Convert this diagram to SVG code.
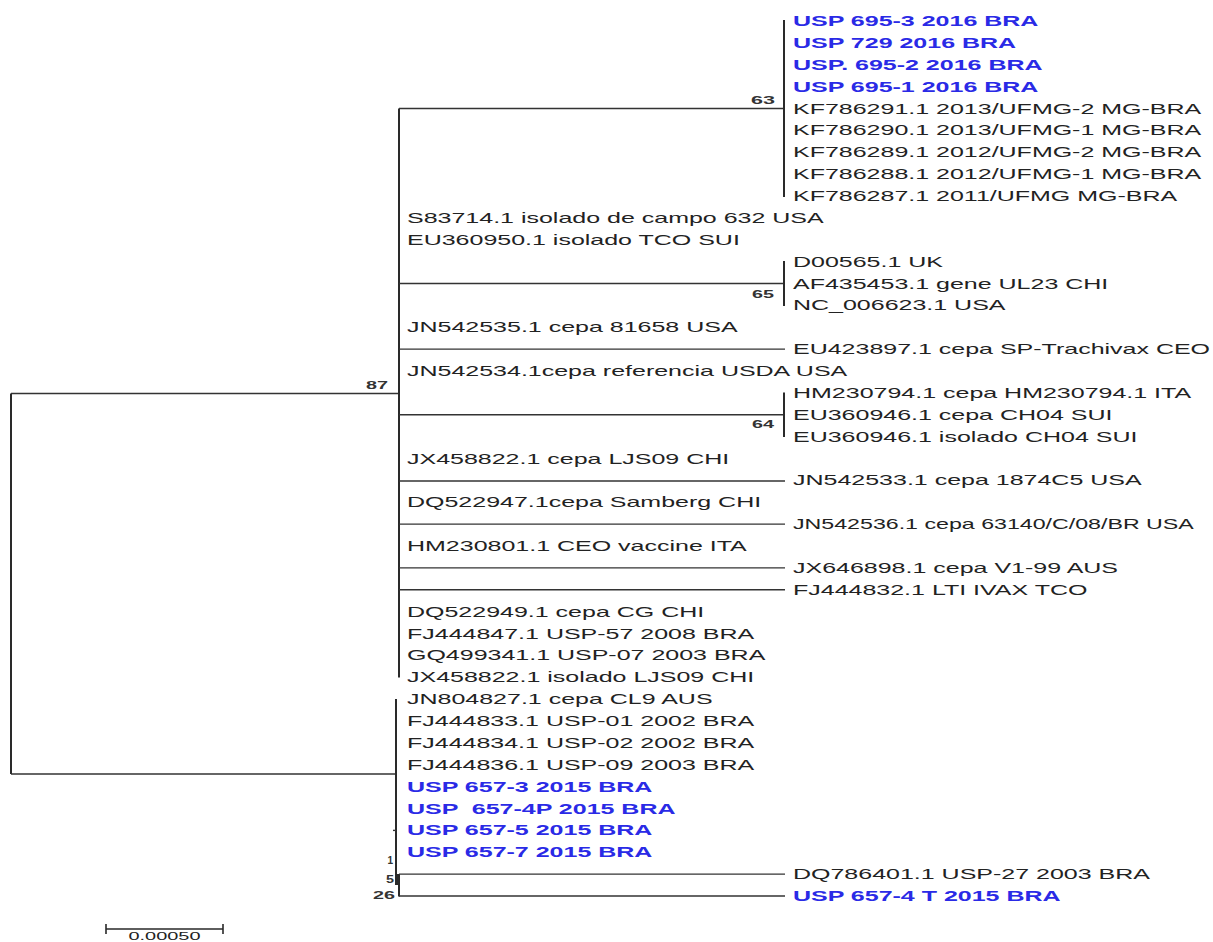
<svg xmlns="http://www.w3.org/2000/svg" width="1213" height="942" viewBox="0 0 1213 942">
<style>
.bg{fill:#ffffff}
.h{stroke:#333333;stroke-width:1.4;fill:none}
.v{stroke:#2a2a2a;stroke-width:2;fill:none}
.t{font-family:"Liberation Sans",Arial,sans-serif;font-size:14.5px;fill:#222222}
.b{font-family:"Liberation Sans",Arial,sans-serif;font-size:14.5px;font-weight:bold;fill:#2a2ae6}
.bs{font-family:"Liberation Sans",Arial,sans-serif;font-size:10px;font-weight:bold;fill:#333333}
.sc{font-family:"Liberation Sans",Arial,sans-serif;font-size:10px;fill:#222222}
</style>
<rect class="bg" x="0" y="0" width="1213" height="942"/>
<g id="connectors">
<path class="v" d="M11 393.5V774"/>
<path class="h" d="M11 393.5H399"/>
<path class="h" d="M11 774H396"/>
<path class="v" d="M399 108.5V677.5"/>
<path class="h" d="M399 108.5H784"/>
<path class="v" d="M784 20V197"/>
<path class="h" d="M399 283.5H784"/>
<path class="v" d="M784 261V306"/>
<path class="h" d="M399 349.1H785"/>
<path class="h" d="M399 414.75H784"/>
<path class="v" d="M784 392.5V437"/>
<path class="h" d="M399 481H785"/>
<path class="h" d="M399 524.1H785"/>
<path class="h" d="M399 567.9H785"/>
<path class="h" d="M399 589.75H785"/>
<path class="v" d="M396 699V885"/>
<path class="h" d="M393 830.4H396"/>
<path class="v" d="M397.5 874V885" style="stroke-width:2.6"/>
<path class="v" d="M399 874V896.5"/>
<path class="h" d="M399 874.1H785"/>
<path class="h" d="M399 896H785"/>
</g>
<g id="support">
<text class="bs" x="775" y="104" text-anchor="end" textLength="24" lengthAdjust="spacingAndGlyphs">63</text>
<text class="bs" x="774" y="298" text-anchor="end" textLength="22" lengthAdjust="spacingAndGlyphs">65</text>
<text class="bs" x="774" y="428" text-anchor="end" textLength="22" lengthAdjust="spacingAndGlyphs">64</text>
<text class="bs" x="388" y="389" text-anchor="end" textLength="22" lengthAdjust="spacingAndGlyphs">87</text>
<text class="bs" x="393" y="864" text-anchor="end">1</text>
<text class="bs" x="394" y="883" text-anchor="end" textLength="8" lengthAdjust="spacingAndGlyphs">5</text>
<text class="bs" x="395" y="899" text-anchor="end" textLength="22" lengthAdjust="spacingAndGlyphs">26</text>
</g>
<g id="leaf0" transform="translate(793 26) scale(1.724 1)"><text class="b">USP 695-3 2016 BRA</text></g>
<g id="leaf1" transform="translate(793 47.9) scale(1.724 1)"><text class="b">USP 729 2016 BRA</text></g>
<g id="leaf2" transform="translate(793 69.75) scale(1.724 1)"><text class="b">USP. 695-2 2016 BRA</text></g>
<g id="leaf3" transform="translate(793 91.6) scale(1.724 1)"><text class="b">USP 695-1 2016 BRA</text></g>
<g id="leaf4" transform="translate(793 113.5) scale(1.724 1)"><text class="t">KF786291.1 2013/UFMG-2 MG-BRA</text></g>
<g id="leaf5" transform="translate(793 135.4) scale(1.724 1)"><text class="t">KF786290.1 2013/UFMG-1 MG-BRA</text></g>
<g id="leaf6" transform="translate(793 157.25) scale(1.724 1)"><text class="t">KF786289.1 2012/UFMG-2 MG-BRA</text></g>
<g id="leaf7" transform="translate(793 179.1) scale(1.724 1)"><text class="t">KF786288.1 2012/UFMG-1 MG-BRA</text></g>
<g id="leaf8" transform="translate(793 201) scale(1.724 1)"><text class="t">KF786287.1 2011/UFMG MG-BRA</text></g>
<g id="leaf9" transform="translate(407 222.9) scale(1.724 1)"><text class="t">S83714.1 isolado de campo 632 USA</text></g>
<g id="leaf10" transform="translate(407 244.75) scale(1.724 1)"><text class="t">EU360950.1 isolado TCO SUI</text></g>
<g id="leaf11" transform="translate(793 266.6) scale(1.724 1)"><text class="t">D00565.1 UK</text></g>
<g id="leaf12" transform="translate(793 288.5) scale(1.724 1)"><text class="t">AF435453.1 gene UL23 CHI</text></g>
<g id="leaf13" transform="translate(793 310.4) scale(1.724 1)"><text class="t">NC_006623.1 USA</text></g>
<g id="leaf14" transform="translate(407 332.25) scale(1.724 1)"><text class="t">JN542535.1 cepa 81658 USA</text></g>
<g id="leaf15" transform="translate(793 354.1) scale(1.724 1)"><text class="t">EU423897.1 cepa SP-Trachivax CEO</text></g>
<g id="leaf16" transform="translate(407 376) scale(1.724 1)"><text class="t">JN542534.1cepa referencia USDA USA</text></g>
<g id="leaf17" transform="translate(793 397.9) scale(1.724 1)"><text class="t">HM230794.1 cepa HM230794.1 ITA</text></g>
<g id="leaf18" transform="translate(793 419.75) scale(1.724 1)"><text class="t">EU360946.1 cepa CH04 SUI</text></g>
<g id="leaf19" transform="translate(793 441.6) scale(1.724 1)"><text class="t">EU360946.1 isolado CH04 SUI</text></g>
<g id="leaf20" transform="translate(407 463.5) scale(1.724 1)"><text class="t">JX458822.1 cepa LJS09 CHI</text></g>
<g id="leaf21" transform="translate(793 485.4) scale(1.724 1)"><text class="t">JN542533.1 cepa 1874C5 USA</text></g>
<g id="leaf22" transform="translate(407 507.25) scale(1.724 1)"><text class="t">DQ522947.1cepa Samberg CHI</text></g>
<g id="leaf23" transform="translate(793 529.1) scale(1.6 1)"><text class="t">JN542536.1 cepa 63140/C/08/BR USA</text></g>
<g id="leaf24" transform="translate(407 551) scale(1.724 1)"><text class="t">HM230801.1 CEO vaccine ITA</text></g>
<g id="leaf25" transform="translate(793 572.9) scale(1.724 1)"><text class="t">JX646898.1 cepa V1-99 AUS</text></g>
<g id="leaf26" transform="translate(793 594.75) scale(1.724 1)"><text class="t">FJ444832.1 LTI IVAX TCO</text></g>
<g id="leaf27" transform="translate(407 616.6) scale(1.724 1)"><text class="t">DQ522949.1 cepa CG CHI</text></g>
<g id="leaf28" transform="translate(407 638.5) scale(1.724 1)"><text class="t">FJ444847.1 USP-57 2008 BRA</text></g>
<g id="leaf29" transform="translate(407 660.4) scale(1.724 1)"><text class="t">GQ499341.1 USP-07 2003 BRA</text></g>
<g id="leaf30" transform="translate(407 682.25) scale(1.724 1)"><text class="t">JX458822.1 isolado LJS09 CHI</text></g>
<g id="leaf31" transform="translate(407 704.1) scale(1.724 1)"><text class="t">JN804827.1 cepa CL9 AUS</text></g>
<g id="leaf32" transform="translate(407 726) scale(1.724 1)"><text class="t">FJ444833.1 USP-01 2002 BRA</text></g>
<g id="leaf33" transform="translate(407 747.9) scale(1.724 1)"><text class="t">FJ444834.1 USP-02 2002 BRA</text></g>
<g id="leaf34" transform="translate(407 769.75) scale(1.724 1)"><text class="t">FJ444836.1 USP-09 2003 BRA</text></g>
<g id="leaf35" transform="translate(407 791.6) scale(1.724 1)"><text class="b">USP 657-3 2015 BRA</text></g>
<g id="leaf36" transform="translate(407 813.5) scale(1.724 1)"><text class="b" xml:space="preserve">USP  657-4P 2015 BRA</text></g>
<g id="leaf37" transform="translate(407 835.4) scale(1.724 1)"><text class="b">USP 657-5 2015 BRA</text></g>
<g id="leaf38" transform="translate(407 857.25) scale(1.724 1)"><text class="b">USP 657-7 2015 BRA</text></g>
<g id="leaf39" transform="translate(793 879.1) scale(1.724 1)"><text class="t">DQ786401.1 USP-27 2003 BRA</text></g>
<g id="leaf40" transform="translate(793 901) scale(1.724 1)"><text class="b">USP 657-4 T 2015 BRA</text></g>
<g id="scalebar">
<path class="v" d="M106 929H223M106 924V934M223 924V934" style="stroke-width:1.6"/>
<text class="sc" x="164.5" y="940" text-anchor="middle" textLength="72" lengthAdjust="spacingAndGlyphs">0.00050</text>
</g>
</svg>
